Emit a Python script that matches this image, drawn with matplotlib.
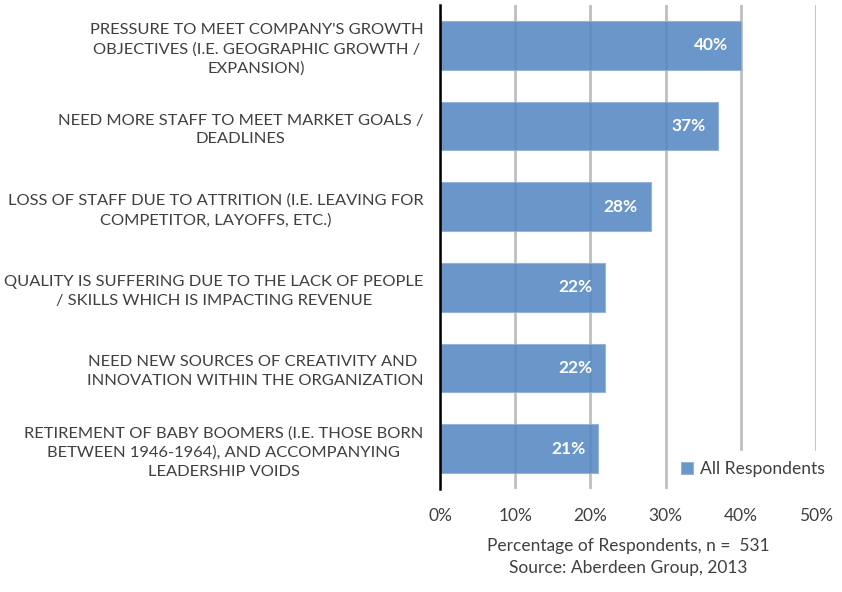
import matplotlib
matplotlib.use("Agg")
import matplotlib.pyplot as plt

categories = [
    "PRESSURE TO MEET COMPANY'S GROWTH\nOBJECTIVES (I.E. GEOGRAPHIC GROWTH /\nEXPANSION)",
    "NEED MORE STAFF TO MEET MARKET GOALS /\nDEADLINES",
    "LOSS OF STAFF DUE TO ATTRITION (I.E. LEAVING FOR\nCOMPETITOR, LAYOFFS, ETC.)",
    "QUALITY IS SUFFERING DUE TO THE LACK OF PEOPLE\n/ SKILLS WHICH IS IMPACTING REVENUE",
    "NEED NEW SOURCES OF CREATIVITY AND \nINNOVATION WITHIN THE ORGANIZATION",
    "RETIREMENT OF BABY BOOMERS (I.E. THOSE BORN\nBETWEEN 1946-1964), AND ACCOMPANYING\nLEADERSHIP VOIDS",
]
values = [40, 37, 28, 22, 22, 21]
xticks = [0, 10, 20, 30, 40, 50]
series_name = "All Respondents"

plt.rcParams['font.family'] = ['Lato', 'DejaVu Sans']
fig = plt.figure(figsize=(8.42, 5.92), dpi=100)
ax = fig.add_axes([440/842, 1-489/592, 376/842, (489-5)/592])

y = list(range(len(categories)))
bars = ax.barh(y, values, height=0.6, color='#5688C2', alpha=0.88, zorder=2,
               edgecolor='#8FB0DA', linewidth=0.8, label=series_name)
ax.set_ylim(len(categories)-0.5, -0.5)
ax.set_xlim(0, 50)
ax.set_xticks(xticks)
ax.set_xticklabels([f"{v}%" for v in xticks], fontsize=12.5, color='#404040')
ax.set_yticks(y)
ax.set_yticklabels(categories, fontsize=11.85, color='#404040', ha='right',
                   multialignment='center', linespacing=1.44)
ax.tick_params(axis='y', length=0, pad=12)
ax.tick_params(axis='x', length=0, pad=14)
ax.grid(axis='x', color='#BFBFBF', linewidth=2, zorder=1)
ax.set_axisbelow(True)
for s in ['top', 'right', 'bottom']:
    ax.spines[s].set_visible(False)
ax.spines['left'].set_color('black')
ax.spines['left'].set_linewidth(1.8)
ax.spines['left'].set_zorder(4)

for yi, v in zip(y, values):
    ax.text(v - 1.7, yi, f"{v}%", ha='right', va='center', color='white',
            fontsize=12.5, fontweight='bold', zorder=5)

leg = ax.legend(loc='lower right', bbox_to_anchor=(1.075, -0.016), frameon=True, fontsize=12.6,
                handlelength=0.7, handleheight=0.7, handletextpad=0.4, borderpad=0.6,
                facecolor='white', edgecolor='white', framealpha=1, fancybox=False)
for t in leg.get_texts():
    t.set_color('#404040')
leg.set_zorder(6)

ax.set_xlabel("Percentage of Respondents, n =  531\nSource: Aberdeen Group, 2013",
              fontsize=12.5, color='#404040', labelpad=10, linespacing=1.45)

fig.savefig("out.png", dpi=100)
